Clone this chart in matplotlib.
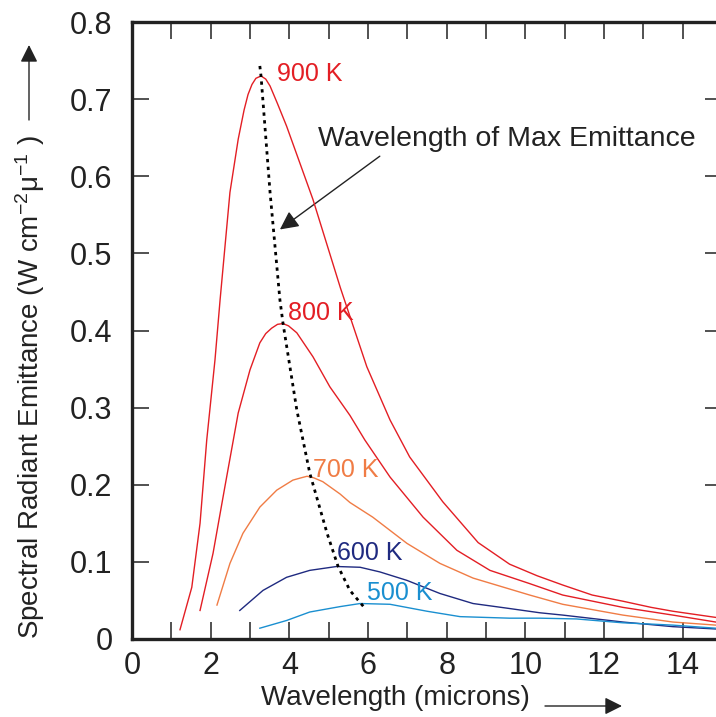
import matplotlib
matplotlib.use("Agg")
import matplotlib.pyplot as plt
from matplotlib.patches import FancyArrowPatch

plt.rcParams["font.family"] = ["Liberation Sans", "DejaVu Sans"]
plt.rcParams["mathtext.fontset"] = "custom"
plt.rcParams["mathtext.rm"] = "Liberation Sans"
plt.rcParams["mathtext.it"] = "Liberation Sans:italic"

# curves (wavelength in microns, emittance in W cm^-2 micron^-1)
x_900 = [1.22, 1.52, 1.73, 1.90, 2.11, 2.24, 2.49, 2.70, 2.85, 2.95, 3.05, 3.15, 3.28,
         3.40, 3.51, 3.70, 3.93, 4.60, 5.30, 5.97, 6.56, 7.06, 7.90, 8.80, 9.60, 10.30,
         10.95, 11.70, 12.48, 13.20, 13.75, 14.84]
y_900 = [0.012, 0.067, 0.150, 0.258, 0.362, 0.440, 0.579, 0.648, 0.686, 0.706, 0.719,
         0.727, 0.730, 0.726, 0.717, 0.694, 0.665, 0.570, 0.455, 0.353, 0.284, 0.236,
         0.178, 0.125, 0.097, 0.082, 0.070, 0.057, 0.049, 0.041, 0.036, 0.028]

x_800 = [1.73, 2.06, 2.36, 2.70, 3.00, 3.25, 3.40, 3.55, 3.70, 3.84, 3.98, 4.19, 4.60,
         5.03, 5.54, 5.92, 6.56, 7.40, 8.26, 9.10, 10.10, 10.95, 12.48, 13.75, 14.84]
y_800 = [0.037, 0.111, 0.197, 0.293, 0.349, 0.384, 0.396, 0.403, 0.408, 0.409, 0.406,
         0.397, 0.366, 0.327, 0.290, 0.258, 0.210, 0.158, 0.115, 0.089, 0.072, 0.057,
         0.041, 0.031, 0.022]

x_700 = [2.16, 2.49, 2.82, 3.25, 3.68, 4.09, 4.30, 4.45, 4.62, 4.85, 5.29, 5.54, 6.12,
         6.99, 7.83, 8.67, 10.11, 10.95, 12.48, 13.75, 14.84]
y_700 = [0.044, 0.098, 0.137, 0.171, 0.193, 0.206, 0.209, 0.211, 0.209, 0.204, 0.188,
         0.177, 0.158, 0.124, 0.098, 0.079, 0.057, 0.045, 0.031, 0.022, 0.018]

x_600 = [2.74, 3.33, 3.93, 4.52, 5.20, 5.80, 6.30, 6.99, 7.83, 8.67, 9.53, 10.37,
         10.95, 12.48, 13.75, 14.84]
y_600 = [0.037, 0.063, 0.080, 0.089, 0.094, 0.093, 0.087, 0.076, 0.059, 0.046, 0.040,
         0.034, 0.031, 0.022, 0.016, 0.013]

x_500 = [3.25, 3.93, 4.52, 5.29, 5.80, 6.56, 7.50, 8.34, 9.60, 10.37, 11.30, 12.48,
         13.75, 14.84]
y_500 = [0.014, 0.024, 0.035, 0.042, 0.046, 0.045, 0.036, 0.029, 0.027, 0.027, 0.026,
         0.021, 0.018, 0.014]

# locus of the peaks (dotted)
x_peak = [3.25, 3.28, 3.51, 3.76, 3.84, 4.19, 4.52, 4.96, 5.24, 5.54, 5.92]
y_peak = [0.743, 0.730, 0.579, 0.440, 0.409, 0.297, 0.215, 0.137, 0.094, 0.063, 0.040]

curves = [
    ("900 K", x_900, y_900, "#e31e24", (3.68, 0.733)),
    ("800 K", x_800, y_800, "#e31e24", (3.96, 0.423)),
    ("700 K", x_700, y_700, "#f07c45", (4.60, 0.219)),
    ("600 K", x_600, y_600, "#1f2a80", (5.20, 0.111)),
    ("500 K", x_500, y_500, "#1a8fd0", (5.97, 0.060)),
]

fig = plt.figure(figsize=(7.16, 7.17), dpi=100)
ax = fig.add_axes([132 / 716, 78 / 717, 590 / 716, 617 / 717])

for label, xs, ys, color, pos in curves:
    ax.plot(xs, ys, color=color, linewidth=1.0)
    ax.text(pos[0], pos[1], label, color=color, fontsize=18, ha="left", va="center")

ax.plot(x_peak, y_peak, color="black", linestyle=(0, (1.2, 1.6)), linewidth=2.0)

ax.text(4.73, 0.648, "Wavelength of Max Emittance", fontsize=20.5, color="#222222",
        ha="left", va="center")
ax.add_patch(FancyArrowPatch((6.3, 0.626), (3.76, 0.531), arrowstyle="-|>",
                             mutation_scale=28, color="#222222", linewidth=1.0,
                             shrinkA=0, shrinkB=0))

ax.set_xlim(0, 15)
ax.set_ylim(0, 0.8)
ax.set_xticks(range(0, 16))
ax.set_xticklabels([str(v) if v % 2 == 0 and v < 15 else "" for v in range(0, 16)])
yt = [i / 10 for i in range(0, 9)]
ax.set_yticks(yt)
ax.set_yticklabels(["0"] + [f"{v:.1f}" for v in yt[1:]])
ax.tick_params(direction="in", length=12, width=1.2, color="#333333",
               labelsize=22, labelcolor="#222222", top=True, right=True)
ax.tick_params(axis="y", pad=14)
ax.tick_params(axis="x", pad=9)
for side in ["left", "bottom", "top", "right"]:
    ax.spines[side].set_linewidth(2.4)
    ax.spines[side].set_color("#222222")

fig.text(30 / 716, 0.460, "Spectral Radiant Emittance (W cm$^{-2}$\u03bc$^{-1}$ )",
         rotation=90, ha="center", va="center", fontsize=20, color="#222222")
fig.add_artist(FancyArrowPatch((29 / 716, 1 - 120 / 717), (29 / 716, 1 - 45 / 717),
                               transform=fig.transFigure, arrowstyle="-|>",
                               mutation_scale=26, color="#222222", linewidth=1.0,
                               shrinkA=0, shrinkB=0))

fig.text(395 / 716, 1 - 698 / 717, "Wavelength (microns)", ha="center", va="center",
         fontsize=20, color="#222222")
fig.add_artist(FancyArrowPatch((545 / 716, 1 - 706 / 717), (622 / 716, 1 - 706 / 717),
                               transform=fig.transFigure, arrowstyle="-|>",
                               mutation_scale=26, color="#222222", linewidth=1.0,
                               shrinkA=0, shrinkB=0))

fig.savefig("out.png", dpi=100)
